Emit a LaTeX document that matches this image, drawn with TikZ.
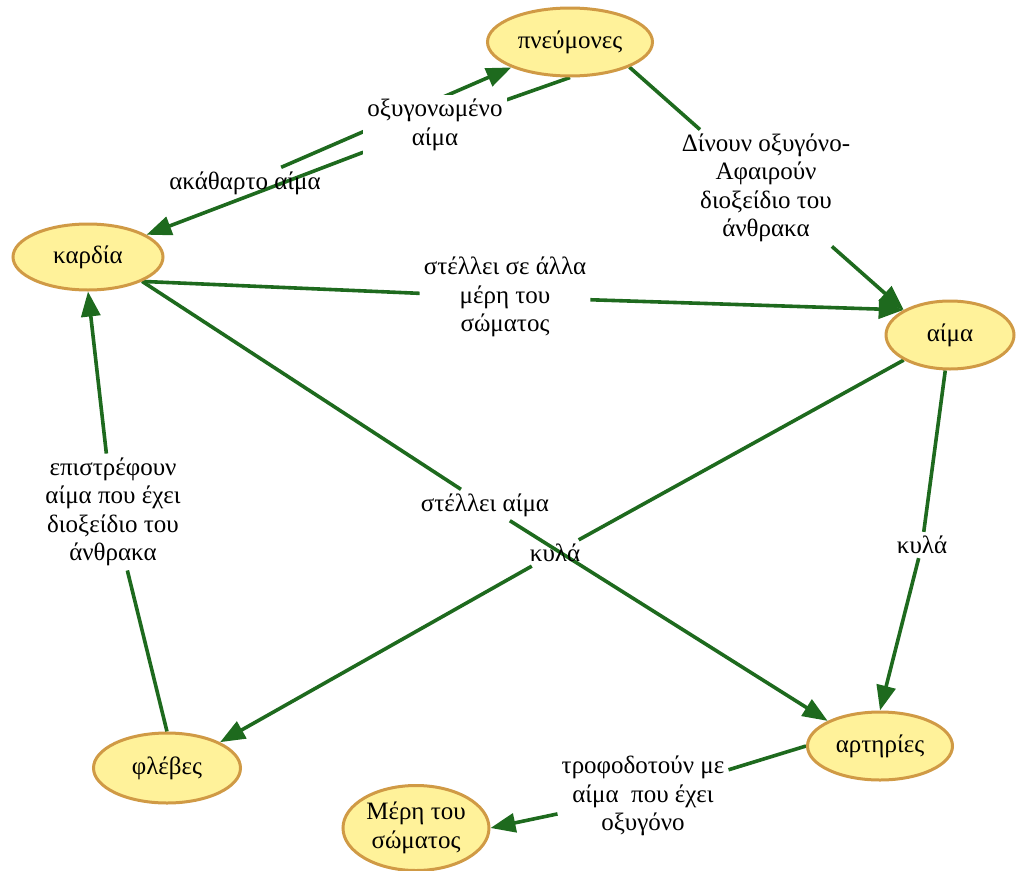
\documentclass[tikz,border=0pt]{standalone}
\usepackage{fontspec}
\setmainfont{Liberation Serif}
\usetikzlibrary{shapes.geometric,arrows.meta}
\pgfdeclarelayer{bg}
\pgfsetlayers{bg,main}
\definecolor{conc}{HTML}{FFF29A}
\definecolor{concb}{HTML}{D09A45}
\definecolor{lnk}{HTML}{1E6A1E}
\begin{document}
\begin{tikzpicture}[x=1pt,y=-1pt,
  concept/.style={ellipse,draw=concb,line width=3pt,fill=conc,inner sep=0pt,
    font=\fontsize{25}{29}\selectfont,align=center},
  phrase/.style={inner sep=4pt,font=\fontsize{25}{28.5}\selectfont,align=center},
  link/.style={draw=lnk,line width=3.6pt},
  arr/.style={link,-{Triangle[length=25pt,width=19pt]}}]
\useasboundingbox (0,0) rectangle (1017,870);
% concepts
\node[concept,minimum width=165pt,minimum height=68pt] (pneu) at (570,42) {πνεύμονες};
\node[concept,minimum width=150pt,minimum height=66pt] (kardia) at (88,257) {καρδία};
\node[concept,minimum width=128pt,minimum height=68pt] (aima) at (950,335) {αίμα};
\node[concept,minimum width=145pt,minimum height=68pt] (art) at (880,746) {αρτηρίες};
\node[concept,minimum width=147pt,minimum height=70pt] (fleb) at (167,768) {φλέβες};
\node[concept,minimum width=146pt,minimum height=85pt] (meri) at (416,828) {Μέρη του\\σώματος};
% linking phrases
\node[phrase,fill=white] (oxy) at (435,125) {οξυγονωμένο\\αίμα};
\node[phrase] (akath) at (245,183) {ακάθαρτο αίμα};
\node[phrase] (dinoun) at (766,188) {Δίνουν οξυγόνο-\\Αφαιρούν\\διοξείδιο του\\άνθρακα};
\node[phrase] (stel1) at (505,297) {στέλλει σε άλλα\\μέρη του\\σώματος};
\node[phrase] (epis) at (113,512) {επιστρέφουν\\αίμα που έχει\\διοξείδιο του\\άνθρακα};
\node[phrase] (stel2) at (485,505) {στέλλει αίμα};
\node[phrase] (kyla1) at (555,553) {κυλά};
\node[phrase] (kyla2) at (922,545) {κυλά};
\node[phrase] (trof) at (643,796) {τροφοδοτούν με\\αίμα\ \ που έχει\\οξυγόνο};
\begin{pgfonlayer}{bg}
\draw[arr] (akath) -- (pneu);
\draw[link] (pneu.south) -- (oxy);
\draw[arr] (oxy) -- (kardia);
\draw[link] (pneu.south east) -- (dinoun);
\draw[arr] (dinoun) -- (aima.north west);
\draw[link] (kardia.south east) -- (stel1);
\draw[arr] (stel1) -- (aima.north west);
\draw[link] (kardia.south east) -- (stel2);
\draw[arr] (stel2) -- (art.north west);
\draw[link] (aima.south west) -- (kyla1);
\draw[arr] (kyla1) -- (fleb.north east);
\draw[link] (aima) -- (kyla2);
\draw[arr] (kyla2) -- (art.north);
\draw[link] (fleb.north) -- (epis);
\draw[arr] (epis) -- (kardia.south);
\draw[link] (art.west) -- (trof);
\draw[arr] (trof) -- (meri.east);
\end{pgfonlayer}
\end{tikzpicture}
\end{document}
